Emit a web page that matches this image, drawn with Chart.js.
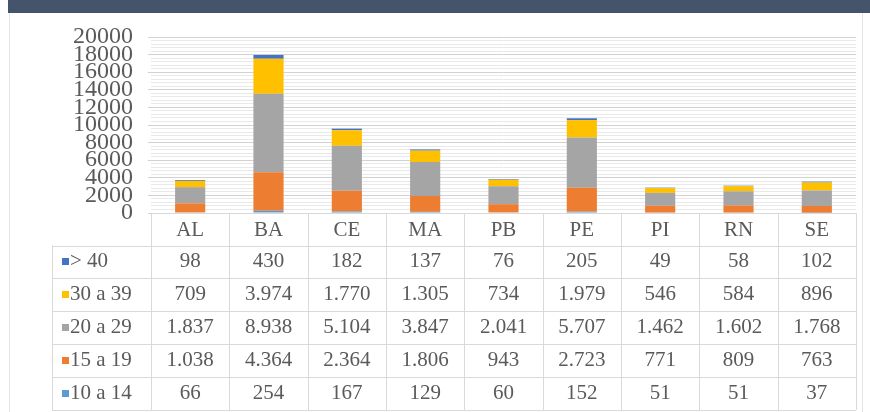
<!DOCTYPE html>
<html>
<head>
<meta charset="utf-8">
<script src="https://cdn.jsdelivr.net/npm/chart.js@4/dist/chart.umd.min.js"></script>
<style>
  html, body { margin: 0; padding: 0; background: #ffffff; }
  #wrap { width: 870px; height: 412px; position: relative; }
</style>
</head>
<body>
<div id="wrap"><canvas id="c" width="870" height="412"></canvas></div>
<script>
const categories = ['AL', 'BA', 'CE', 'MA', 'PB', 'PE', 'PI', 'RN', 'SE'];
const seriesLabels = ['10 a 14', '15 a 19', '20 a 29', '30 a 39', '> 40'];
const s10a14 = [66, 254, 167, 129, 60, 152, 51, 51, 37];
const s15a19 = [1038, 4364, 2364, 1806, 943, 2723, 771, 809, 763];
const s20a29 = [1837, 8938, 5104, 3847, 2041, 5707, 1462, 1602, 1768];
const s30a39 = [709, 3974, 1770, 1305, 734, 1979, 546, 584, 896];
const s40mais = [98, 430, 182, 137, 76, 205, 49, 58, 102];
const yMin = 0, yMax = 20000, yMajorStep = 2000, yMinorStep = 400;

const seriesValues = [s10a14, s15a19, s20a29, s30a39, s40mais];
const seriesColors = ['#5b9bd5', '#ed7d31', '#a5a5a5', '#ffc000', '#4472c4'];

const SERIF = '"Liberation Serif", "DejaVu Serif", serif';
const TEXT = '#5a5a5a';
const LINE = '#d9d9d9';

function fmt(v) {
  return String(v).replace(/\B(?=(\d{3})+(?!\d))/g, '.');
}

const framePlugin = {
  id: 'frame',
  beforeDraw(chart) {
    const ctx = chart.ctx;
    ctx.save();
    ctx.fillStyle = '#ffffff';
    ctx.fillRect(0, 0, chart.width, chart.height);
    ctx.fillStyle = '#44546a';
    ctx.fillRect(8, 0, chart.width - 8, 13);
    ctx.strokeStyle = '#e4e4e4';
    ctx.lineWidth = 1;
    ctx.beginPath();
    ctx.moveTo(9.5, 13); ctx.lineTo(9.5, chart.height);
    ctx.moveTo(862.5, 13); ctx.lineTo(862.5, chart.height);
    ctx.stroke();
    ctx.restore();
  }
};

const tablePlugin = {
  id: 'dataTable',
  afterDraw(chart) {
    const ctx = chart.ctx;
    const area = chart.chartArea;
    const xs = chart.scales.x;
    const n = categories.length;
    const colW = (area.right - area.left) / n;
    const top = area.bottom;
    const headH = 32.5;
    const rowH = 32.9;
    const legendLeft = 52;
    const nRows = seriesLabels.length;
    const bottom = top + headH + rowH * nRows;

    ctx.save();
    ctx.strokeStyle = LINE;
    ctx.lineWidth = 1;
    ctx.beginPath();
    ctx.moveTo(area.left, Math.round(top) + 0.5);
    ctx.lineTo(area.right, Math.round(top) + 0.5);
    for (let r = 0; r <= nRows; r++) {
      const y = Math.round(top + headH + r * rowH) + 0.5;
      ctx.moveTo(legendLeft, y);
      ctx.lineTo(area.right, y);
    }
    for (let c = 0; c <= n; c++) {
      const x = Math.round(area.left + c * colW) + 0.5;
      ctx.moveTo(x, top);
      ctx.lineTo(x, bottom);
    }
    ctx.moveTo(legendLeft + 0.5, top + headH);
    ctx.lineTo(legendLeft + 0.5, bottom);
    ctx.stroke();

    ctx.fillStyle = TEXT;
    ctx.font = '21px ' + SERIF;
    ctx.textAlign = 'center';
    ctx.textBaseline = 'middle';
    categories.forEach((cat, i) => {
      const x = xs.getPixelForValue(i);
      ctx.fillText(cat, x, top + headH / 2 + 1);
    });

    for (let r = 0; r < nRows; r++) {
      const si = nRows - 1 - r;
      const yc = top + headH + r * rowH + rowH / 2;
      ctx.fillStyle = seriesColors[si];
      ctx.fillRect(62, Math.round(yc) - 4, 7, 7);
      ctx.fillStyle = TEXT;
      ctx.textAlign = 'left';
      ctx.fillText(seriesLabels[si], 70, yc);
      ctx.textAlign = 'center';
      seriesValues[si].forEach((v, i) => {
        const x = xs.getPixelForValue(i);
        ctx.fillText(fmt(v), x, yc);
      });
    }
    ctx.restore();
  }
};

new Chart(document.getElementById('c'), {
  type: 'bar',
  data: {
    labels: categories,
    datasets: seriesLabels.map((lab, i) => ({
      label: lab,
      data: seriesValues[i],
      backgroundColor: seriesColors[i],
      borderWidth: 0,
      barPercentage: 1,
      categoryPercentage: 0.385
    }))
  },
  options: {
    responsive: false,
    animation: false,
    devicePixelRatio: 1,
    layout: { padding: { top: 37, left: 0, right: 14, bottom: 199 } },
    plugins: { legend: { display: false }, tooltip: { enabled: false } },
    scales: {
      x: { stacked: true, display: false },
      y: {
        stacked: true,
        min: yMin,
        max: yMax,
        border: { display: false },
        grid: {
          color: c => (c.tick && c.tick.value % yMajorStep === 0) ? '#d2d2d2' : '#e9e9e9',
          tickColor: c => (c.tick && c.tick.value % yMajorStep === 0) ? '#d2d2d2' : 'rgba(0,0,0,0)',
          tickLength: 3,
          drawTicks: true
        },
        ticks: {
          stepSize: yMinorStep,
          autoSkip: false,
          padding: 15,
          color: TEXT,
          font: { family: SERIF, size: 24 },
          callback: v => (v % yMajorStep === 0 ? String(v) : '')
        },
        afterFit(scale) { scale.width = 151; }
      }
    }
  },
  plugins: [framePlugin, tablePlugin]
});
</script>
</body>
</html>
